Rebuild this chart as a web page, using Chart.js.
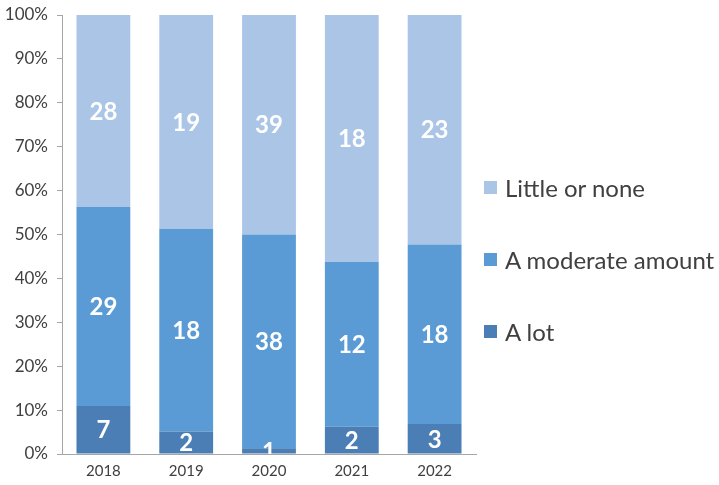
<!DOCTYPE html>
<html>
<head>
<meta charset="utf-8">
<script src="https://cdn.jsdelivr.net/npm/chart.js@4/dist/chart.umd.min.js"></script>
<style>
  html, body { margin: 0; padding: 0; background: #fff; }
  #wrap { position: relative; width: 719px; height: 485px; }
  #legend { position: absolute; left: 484px; top: 169px; font-family: Lato, "Open Sans", sans-serif; font-size: 24px; color: #404040; }
  #legend .item { display: flex; align-items: center; height: 36px; margin-bottom: 36px; white-space: nowrap; }
  #legend .box { width: 13px; height: 13px; margin-right: 8px; }
</style>
</head>
<body>
<div id="wrap">
  <canvas id="chart" width="719" height="485"></canvas>
  <div id="legend"></div>
</div>
<script>
// survey answers per year (counts)
const years = ["2018", "2019", "2020", "2021", "2022"];
const aLot = [7, 2, 1, 2, 3];
const moderateAmount = [29, 18, 38, 12, 18];
const littleOrNone = [28, 19, 39, 18, 23];

const seriesNames = ["A lot", "A moderate amount", "Little or none"];
const seriesColors = ["#4a7eb5", "#5b9bd5", "#abc5e7"];

const totals = years.map((_, i) => aLot[i] + moderateAmount[i] + littleOrNone[i]);
const toPercent = arr => arr.map((v, i) => v / totals[i] * 100);

const counts = [aLot, moderateAmount, littleOrNone];

// white count labels centred in each segment, clipped to the plot area
const segmentLabels = {
  id: "segmentLabels",
  afterDatasetsDraw(chart) {
    const { ctx, chartArea } = chart;
    ctx.save();
    ctx.beginPath();
    ctx.rect(chartArea.left, chartArea.top, chartArea.right - chartArea.left, chartArea.bottom - chartArea.top);
    ctx.clip();
    ctx.fillStyle = "#ffffff";
    ctx.font = "bold 24px Lato, 'Open Sans', sans-serif";
    ctx.textAlign = "center";
    ctx.textBaseline = "middle";
    chart.data.datasets.forEach((ds, di) => {
      const meta = chart.getDatasetMeta(di);
      meta.data.forEach((bar, i) => {
        const yMid = (bar.y + bar.base) / 2;
        ctx.fillText(String(counts[di][i]), bar.x, yMid + 1);
      });
    });
    ctx.restore();
  }
};

const chart = new Chart(document.getElementById("chart"), {
  type: "bar",
  data: {
    labels: years,
    datasets: counts.map((arr, i) => ({
      label: seriesNames[i],
      data: toPercent(arr),
      backgroundColor: seriesColors[i],
      borderWidth: 0,
      categoryPercentage: 1,
      barPercentage: 0.65
    }))
  },
  options: {
    responsive: false,
    animation: false,
    layout: { padding: { top: 0, right: 243, left: 0, bottom: 0 } },
    plugins: {
      legend: { display: false },
      tooltip: { enabled: false }
    },
    scales: {
      x: {
        stacked: true,
        afterFit: s => { s.height = 31; },
        grid: { display: false, drawTicks: false },
        border: { color: "#a6a6a6", width: 1 },
        ticks: {
          color: "#404040",
          font: { family: "Lato, 'Open Sans', sans-serif", size: 15 },
          padding: 8
        }
      },
      y: {
        stacked: true,
        min: 0,
        max: 100,
        afterFit: s => { s.width = 62; s.paddingTop = 15; s.paddingBottom = 0; },
        grid: { drawOnChartArea: false, drawTicks: true, tickLength: 5, color: "#a6a6a6" },
        border: { color: "#a6a6a6", width: 1 },
        ticks: {
          stepSize: 10,
          color: "#404040",
          padding: 9,
          font: { family: "Lato, 'Open Sans', sans-serif", size: 17 },
          callback: v => v + "%"
        }
      }
    }
  },
  plugins: [segmentLabels]
});

// legend listed top to bottom in stack order
const legend = document.getElementById("legend");
for (let i = seriesNames.length - 1; i >= 0; i--) {
  const item = document.createElement("div");
  item.className = "item";
  const box = document.createElement("span");
  box.className = "box";
  box.style.background = seriesColors[i];
  const text = document.createElement("span");
  text.textContent = seriesNames[i];
  item.appendChild(box);
  item.appendChild(text);
  legend.appendChild(item);
}
</script>
</body>
</html>
